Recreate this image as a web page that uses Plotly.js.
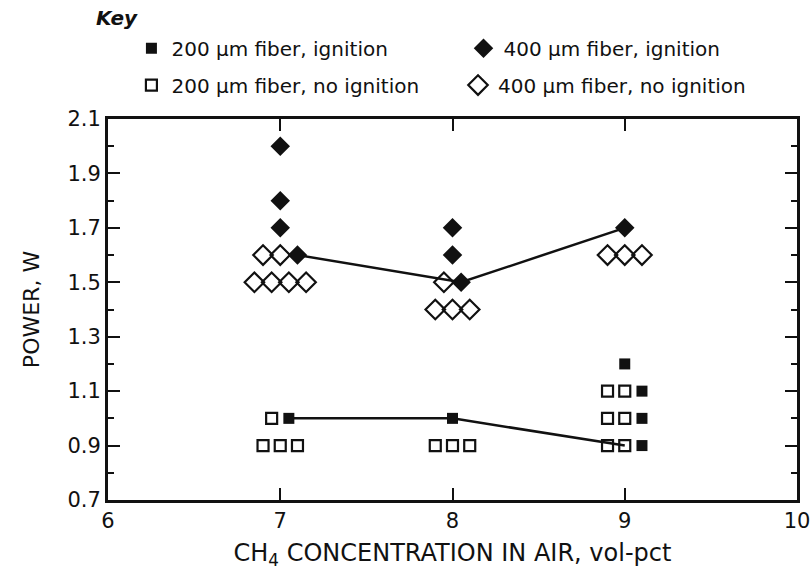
<!DOCTYPE html>
<html>
<head>
<meta charset="utf-8">
<script src="https://cdn.plot.ly/plotly-3.0.1.min.js"></script>
<style>html,body{margin:0;padding:0;background:#fff;}#chart{width:811px;height:580px;}</style>
</head>
<body>
<div id="chart"></div>
<script>
// 200 um fiber, ignition (filled squares)
const ign200X = [7.05, 8.0, 9.0, 9.1, 9.1, 9.1];
const ign200Y = [1.0, 1.0, 1.2, 1.1, 1.0, 0.9];
// 200 um fiber, no ignition (open squares)
const no200X = [6.95, 6.9, 7.0, 7.1, 7.9, 8.0, 8.1, 8.9, 9.0, 8.9, 9.0, 8.9, 9.0];
const no200Y = [1.0, 0.9, 0.9, 0.9, 0.9, 0.9, 0.9, 1.1, 1.1, 1.0, 1.0, 0.9, 0.9];
// 400 um fiber, ignition (filled diamonds)
const ign400X = [7.0, 7.0, 7.0, 7.1, 8.0, 8.0, 8.05, 9.0];
const ign400Y = [2.0, 1.8, 1.7, 1.6, 1.7, 1.6, 1.5, 1.7];
// 400 um fiber, no ignition (open diamonds)
const no400X = [6.9, 7.0, 6.85, 6.95, 7.05, 7.15, 7.95, 7.9, 8.0, 8.1, 8.9, 9.0, 9.1];
const no400Y = [1.6, 1.6, 1.5, 1.5, 1.5, 1.5, 1.5, 1.4, 1.4, 1.4, 1.6, 1.6, 1.6];
// threshold lines
const line200X = [7.05, 8.0, 9.0];
const line200Y = [1.0, 1.0, 0.9];
const line400X = [7.1, 8.05, 9.0];
const line400Y = [1.6, 1.5, 1.7];
const xTicks = [6, 7, 8, 9, 10];
const yTicks = [0.7, 0.9, 1.1, 1.3, 1.5, 1.7, 1.9, 2.1];

const FONT = 'DejaVu Sans, Liberation Sans, sans-serif';
const BLK = '#111';
const traces = [
  {x: line200X, y: line200Y, mode: 'lines', line: {color: BLK, width: 2.5}, showlegend: false, hoverinfo: 'skip'},
  {x: line400X, y: line400Y, mode: 'lines', line: {color: BLK, width: 2.5}, showlegend: false, hoverinfo: 'skip'},
  {x: ign200X, y: ign200Y, mode: 'markers', name: '200 \u03bcm fiber, ignition', legend: 'legend',
   marker: {symbol: 'square', size: 11, color: BLK}},
  {x: ign400X, y: ign400Y, mode: 'markers', name: '400 \u03bcm fiber, ignition', legend: 'legend2',
   marker: {symbol: 'diamond', size: 15, color: BLK}},
  {x: no200X, y: no200Y, mode: 'markers', name: '200 \u03bcm fiber, no ignition', legend: 'legend3',
   marker: {symbol: 'square-open', size: 11, color: BLK, line: {width: 2.2}}},
  {x: no400X, y: no400Y, mode: 'markers', name: '400 \u03bcm fiber, no ignition', legend: 'legend4',
   marker: {symbol: 'diamond-open', size: 15, color: BLK, line: {width: 2.2}}},
  // empty trace to create the mirrored (top/right) tick axes
  {x: [], y: [], xaxis: 'x2', yaxis: 'y2', mode: 'markers', showlegend: false, hoverinfo: 'skip'}
];

const legFont = {size: 20, family: FONT, color: BLK};
const tickFont = {size: 21, family: FONT, color: BLK};
function leg(x, y) {
  return {orientation: 'v', x: x, y: y, xanchor: 'left', yanchor: 'middle',
    font: legFont, itemwidth: 30, bgcolor: 'rgba(0,0,0,0)'};
}
const layout = {
  width: 811, height: 580,
  margin: {l: 108, r: 14, t: 119, b: 80},
  paper_bgcolor: '#fff', plot_bgcolor: '#fff',
  font: {family: FONT, color: BLK},
  showlegend: true,
  legend: leg(0.034, 1.186),
  legend2: leg(0.516, 1.186),
  legend3: leg(0.034, 1.089),
  legend4: leg(0.508, 1.089),
  xaxis: {range: [6, 10], tickvals: xTicks, ticktext: xTicks.map(String),
    ticks: 'inside', ticklen: 12, tickwidth: 2, tickcolor: BLK,
    showline: true, linewidth: 3, linecolor: BLK,
    showgrid: false, zeroline: false, tickfont: tickFont,
    title: {text: 'CH<sub>4</sub> CONCENTRATION IN AIR, vol-pct', font: {size: 24, family: FONT, color: BLK}, standoff: 12}},
  yaxis: {range: [0.7, 2.1], tickvals: yTicks, ticktext: yTicks.map(v => v.toFixed(1)),
    ticks: 'inside', ticklen: 12, tickwidth: 2, tickcolor: BLK,
    minor: {dtick: 0.1, tick0: 0.7, ticks: 'inside', ticklen: 6, tickwidth: 2, tickcolor: BLK, showgrid: false},
    showline: true, linewidth: 3, linecolor: BLK,
    showgrid: false, zeroline: false, tickfont: tickFont,
    title: {text: 'POWER, W', font: {size: 22, family: FONT, color: BLK}, standoff: 22}},
  xaxis2: {overlaying: 'x', side: 'top', anchor: 'y', range: [6, 10], tickvals: xTicks,
    ticks: 'inside', ticklen: 12, tickwidth: 2, tickcolor: BLK, showticklabels: false,
    showline: true, linewidth: 3, linecolor: BLK, showgrid: false, zeroline: false},
  yaxis2: {overlaying: 'y', side: 'right', anchor: 'x', range: [0.7, 2.1], tickvals: yTicks,
    ticks: 'inside', ticklen: 12, tickwidth: 2, tickcolor: BLK, showticklabels: false,
    minor: {dtick: 0.1, tick0: 0.7, ticks: 'inside', ticklen: 6, tickwidth: 2, tickcolor: BLK, showgrid: false},
    showline: true, linewidth: 3, linecolor: BLK, showgrid: false, zeroline: false},
  annotations: [
    {text: '<b><i>Key</i></b>', xref: 'paper', yref: 'paper', x: -0.02, y: 1.265,
     xanchor: 'left', yanchor: 'middle', showarrow: false, font: {size: 20, family: FONT, color: BLK}}
  ]
};
Plotly.newPlot('chart', traces, layout, {displayModeBar: false, staticPlot: true});
</script>
</body>
</html>
